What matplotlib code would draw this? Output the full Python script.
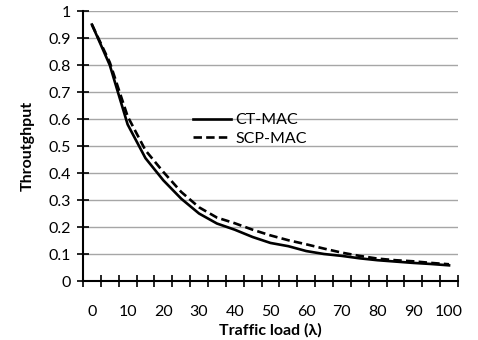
import matplotlib
matplotlib.use("Agg")
import matplotlib.pyplot as plt
import numpy as np

# Traffic load categories and throughput values
loads = [0, 5, 10, 15, 20, 25, 30, 35, 40, 45, 50, 55, 60, 65, 70, 75, 80, 85, 90, 95, 100]
ct_mac = [0.95, 0.80, 0.58, 0.455, 0.373, 0.305, 0.25, 0.213, 0.19, 0.163, 0.141, 0.129,
          0.111, 0.10, 0.093, 0.084, 0.077, 0.072, 0.067, 0.063, 0.058]
scp_mac = [0.95, 0.81, 0.61, 0.484, 0.404, 0.33, 0.273, 0.235, 0.214, 0.19, 0.169, 0.151,
           0.136, 0.12, 0.105, 0.093, 0.083, 0.077, 0.073, 0.067, 0.062]
y_ticks = [0, 0.1, 0.2, 0.3, 0.4, 0.5, 0.6, 0.7, 0.8, 0.9, 1]
y_labels = ["0", "0.1", "0.2", "0.3", "0.4", "0.5", "0.6", "0.7", "0.8", "0.9", "1"]

plt.rcParams["font.family"] = ["Lato", "DejaVu Sans"]

fig = plt.figure(figsize=(4.78, 3.40), dpi=100)
ax = fig.add_axes([0.1736, 0.1735, 0.7845, 0.794])

x = np.arange(len(loads))
ax.plot(x, ct_mac, color="black", lw=1.9, solid_joinstyle="round", label="CT-MAC")
ax.plot(x, scp_mac, color="black", lw=1.9, dashes=(3.2, 1.6), label="SCP-MAC")

ax.set_xlim(-0.5, len(loads) - 0.5)
ax.set_ylim(0, 1)

# category axis: labels every other category, tick marks between categories
ax.set_xticks(x[::2])
ax.set_xticklabels([str(v) for v in loads[::2]], fontsize=11.5)
ax.set_xticks(np.arange(len(loads) + 1) - 0.5, minor=True)
ax.tick_params(axis="x", which="major", length=0, pad=17)
ax.tick_params(axis="x", which="minor", direction="inout", length=9, width=1.2)

ax.set_yticks(y_ticks)
ax.set_yticklabels(y_labels, fontsize=11.5)
ax.tick_params(axis="y", direction="inout", length=9, width=1.2, pad=4)

ax.yaxis.grid(True, color="#a6a6a6", lw=1.0)
ax.set_axisbelow(True)
for s in ["top", "right"]:
    ax.spines[s].set_visible(False)
for s in ["left", "bottom"]:
    ax.spines[s].set_linewidth(1.5)

ax.set_xlabel("Traffic load (λ)", fontsize=11.5, fontweight="bold", labelpad=3)
ax.set_ylabel("Throutghput", fontsize=11.5, fontweight="bold", labelpad=10)

ax.legend(loc="upper left", bbox_to_anchor=(0.255, 0.675), frameon=False, fontsize=11.5,
          handlelength=2.4, handletextpad=0.25, labelspacing=0.25)

fig.savefig("out.png", dpi=100)
